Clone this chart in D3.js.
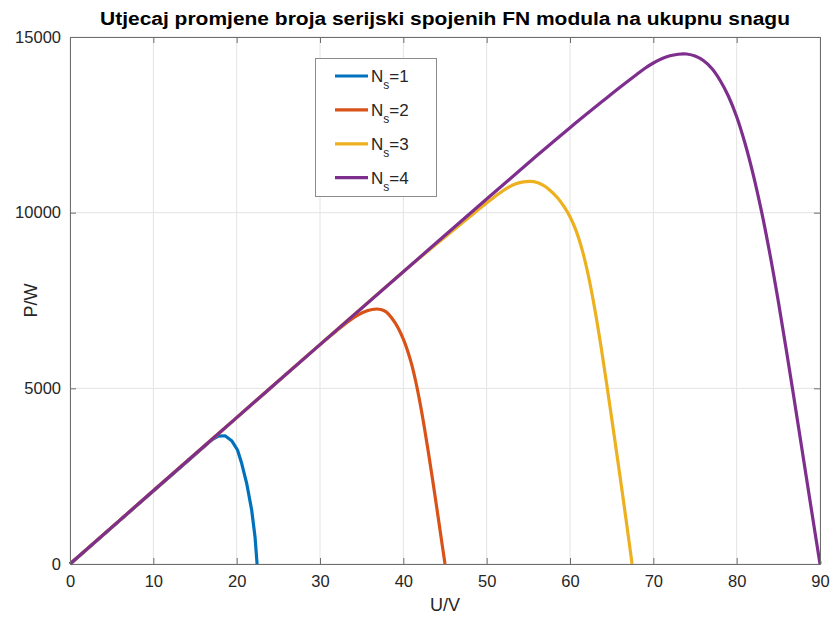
<!DOCTYPE html>
<html>
<head>
<meta charset="utf-8">
<script src="https://cdn.jsdelivr.net/npm/d3@7"></script>
<style>
  html, body { margin: 0; padding: 0; background: #fff; }
  svg { display: block; font-family: "Liberation Sans", Arial, Helvetica, sans-serif; }
</style>
</head>
<body>
<svg id="chart" width="834" height="619"></svg>
<script>
const titleText = "Utjecaj promjene broja serijski spojenih FN modula na ukupnu snagu";
const xLabel = "U/V";
const yLabel = "P/W";
const xTicks = [0, 10, 20, 30, 40, 50, 60, 70, 80, 90];
const yTicks = [0, 5000, 10000, 15000];
const seriesN = ["1", "2", "3", "4"];
const seriesColors = ["#0072BD", "#D95319", "#EDB120", "#7E2F8E"];

// N_s = 1
const u1 = [0, 17, 17.8, 18.6, 19.4, 20.1, 20.6, 21.2, 21.8, 22.2, 22.45];
const p1 = [0, 3530, 3640, 3650, 3510, 3244, 2866, 2297, 1537, 777, 0];
// N_s = 2
const u2 = [0, 10, 20, 30, 32, 33, 34, 35, 35.75, 36.25, 36.8, 37.3, 37.8, 38.3, 39, 39.5, 40, 40.5, 41, 41.5, 42, 42.5, 43, 43.5, 44, 44.5, 45];
const p2 = [0, 2085, 4165, 6245, 6640, 6830, 7005, 7145, 7215, 7245, 7258, 7245, 7195, 7090, 6870, 6660, 6400, 6080, 5680, 5180, 4590, 3920, 3190, 2420, 1620, 810, 0];
// N_s = 3
const u3 = [0, 10, 20, 30, 40, 45, 48, 49.5, 51, 52.5, 53.6, 54.4, 55.2, 55.95, 56.7, 57.45, 58.5, 59.25, 60, 60.75, 61.5, 62.25, 63, 63.75, 64.5, 65.25, 66, 66.75, 67.45];
const p3 = [0, 2085, 4165, 6245, 8320, 9310, 9890, 10180, 10460, 10705, 10828, 10875, 10890, 10868, 10790, 10667, 10425, 10185, 9885, 9475, 8905, 8155, 7225, 6145, 4965, 3745, 2500, 1225, 0];
// N_s = 4
const u4 = [0, 10, 20, 30, 40, 50, 56, 60, 64, 66, 68, 69, 70, 71, 72, 73, 73.6, 74, 75, 76, 77, 78, 79, 80, 81, 82, 83, 84, 85, 86, 87, 88, 89, 90];
const p4 = [0, 2085, 4165, 6245, 8320, 10390, 11620, 12420, 13190, 13570, 13935, 14110, 14260, 14380, 14465, 14510, 14520, 14515, 14460, 14330, 14110, 13770, 13320, 12730, 11975, 11070, 10015, 8810, 7470, 6030, 4535, 3020, 1500, 0];

const seriesU = [u1, u2, u3, u4];
const seriesP = [p1, p2, p3, p4];

const W = 834, H = 619;
const margin = { left: 70, right: 14, top: 37, bottom: 55 };
const plotW = W - margin.left - margin.right; // 750
const plotH = H - margin.top - margin.bottom; // 527

const svg = d3.select("#chart");
const x = d3.scaleLinear().domain([0, 90]).range([margin.left, margin.left + plotW]);
const y = d3.scaleLinear().domain([0, 15000]).range([margin.top + plotH, margin.top]);

const textCol = "#262626";
const axisCol = "#6e6e6e";

// grid
const g = svg.append("g");
g.selectAll(".vg").data(xTicks).enter().append("line")
  .attr("x1", d => x(d)).attr("x2", d => x(d))
  .attr("y1", y(0)).attr("y2", y(15000))
  .attr("stroke", "#e3e3e3").attr("stroke-width", 1);
g.selectAll(".hg").data(yTicks).enter().append("line")
  .attr("x1", x(0)).attr("x2", x(90))
  .attr("y1", d => y(d)).attr("y2", d => y(d))
  .attr("stroke", "#e3e3e3").attr("stroke-width", 1);

// axes using d3 axis (inner ticks)
const xAxis = d3.axisBottom(x).tickValues(xTicks).tickSize(-6).tickPadding(11).tickFormat(d3.format("d"));
const yAxis = d3.axisLeft(y).tickValues(yTicks).tickSize(-6).tickPadding(9).tickFormat(d3.format("d"));
const xTop = d3.axisTop(x).tickValues(xTicks).tickSize(-6).tickFormat("");
const yRight = d3.axisRight(y).tickValues(yTicks).tickSize(-6).tickFormat("");

function styleAxis(sel) {
  sel.selectAll("path").attr("stroke", axisCol).attr("stroke-width", 1);
  sel.selectAll("line").attr("stroke", axisCol).attr("stroke-width", 1);
  sel.selectAll("text").attr("fill", textCol).style("font-size", "16.5px")
    .style("font-family", '"Liberation Sans", Arial, sans-serif');
}

// series
const lineGen = d3.line().x(d => x(d[0])).y(d => y(d[1]));
seriesU.forEach((us, i) => {
  const data = us.map((u, j) => [u, seriesP[i][j]]);
  svg.append("path")
    .datum(data)
    .attr("fill", "none")
    .attr("stroke", seriesColors[i])
    .attr("stroke-width", 3.2)
    .attr("stroke-linejoin", "round")
    .attr("d", lineGen.curve(i === 0 ? d3.curveLinear : d3.curveCatmullRom.alpha(0.5))(data));
});

const gx = svg.append("g").attr("transform", `translate(0,${y(0)})`).call(xAxis);
styleAxis(gx);
const gy = svg.append("g").attr("transform", `translate(${x(0)},0)`).call(yAxis);
styleAxis(gy);
const gxt = svg.append("g").attr("transform", `translate(0,${y(15000)})`).call(xTop);
styleAxis(gxt);
const gyr = svg.append("g").attr("transform", `translate(${x(90)},0)`).call(yRight);
styleAxis(gyr);

// title
svg.append("text")
  .attr("x", x(45)).attr("y", 25)
  .attr("text-anchor", "middle")
  .attr("fill", "#000")
  .style("font-size", "18px").style("font-weight", "bold")
  .attr("textLength", 690).attr("lengthAdjust", "spacingAndGlyphs")
  .text(titleText);

// axis labels
svg.append("text")
  .attr("x", x(45)).attr("y", 611)
  .attr("text-anchor", "middle").attr("fill", textCol)
  .style("font-size", "18px")
  .text(xLabel);
svg.append("text")
  .attr("transform", `translate(37,${y(7500)}) rotate(-90)`)
  .attr("text-anchor", "middle").attr("fill", textCol)
  .style("font-size", "18px")
  .text(yLabel);

// legend
const lg = svg.append("g");
lg.append("rect")
  .attr("x", 315.5).attr("y", 58.5).attr("width", 121).attr("height", 138)
  .attr("fill", "#fff").attr("stroke", "#8c8c8c").attr("stroke-width", 1);
seriesN.forEach((n, i) => {
  const cy = 76 + i * 33.9;
  lg.append("line")
    .attr("x1", 335).attr("x2", 368)
    .attr("y1", cy).attr("y2", cy)
    .attr("stroke", seriesColors[i]).attr("stroke-width", 3.2);
  const t = lg.append("text")
    .attr("x", 371).attr("y", cy + 6)
    .attr("fill", textCol)
    .style("font-size", "17px");
  t.append("tspan").text("N");
  t.append("tspan").attr("dy", 7).style("font-size", "12px").text("s");
  t.append("tspan").attr("dy", -7).text("=" + n);
});
</script>
</body>
</html>
